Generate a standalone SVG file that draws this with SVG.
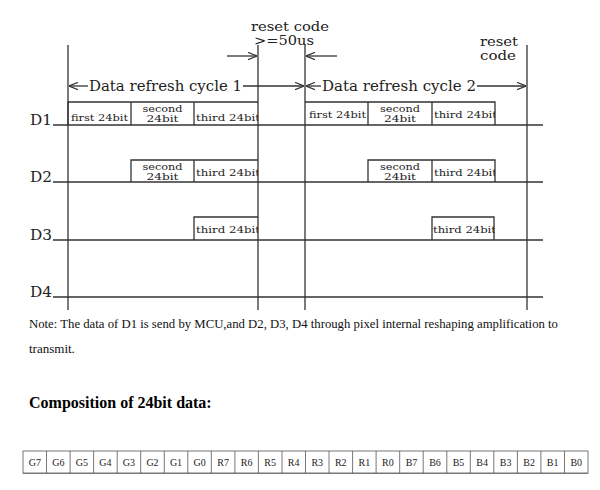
<svg xmlns="http://www.w3.org/2000/svg" width="600" height="490" viewBox="0 0 600 490">
<style>
.ln{stroke:#333;stroke-width:1.3;fill:none}
.t{font-family:"DejaVu Serif","Liberation Serif",serif;fill:#222}
.big{font-size:14px}
.rc{font-size:12.5px}
.sm{font-size:9.5px}
.lab{font-size:15px}
.note{font-family:"Liberation Serif",serif;font-size:13px;fill:#111}
.cell{font-family:"Liberation Serif",serif;font-size:10px;fill:#222;text-anchor:middle}
.cb{stroke:#555;stroke-width:0.8;fill:#fff}
</style>
<defs>
<marker id="ah" viewBox="0 0 10 10" refX="10" refY="5" markerWidth="9" markerHeight="9" markerUnits="userSpaceOnUse" orient="auto">
<path d="M0,1 L10,5 L0,9" fill="none" stroke="#333" stroke-width="1.4"/>
</marker>
<clipPath id="c1"><rect x="194" y="100" width="64" height="150"/></clipPath>
<clipPath id="c2"><rect x="432" y="100" width="63" height="150"/></clipPath>
</defs>

<g id="connectors">
<line class="ln" x1="68" y1="45" x2="68" y2="310"/>
<line class="ln" x1="258" y1="45" x2="258" y2="310"/>
<line class="ln" x1="305" y1="45" x2="305" y2="310"/>
<line class="ln" x1="527" y1="45" x2="527" y2="310"/>
<line class="ln" x1="227" y1="56" x2="257" y2="56" marker-end="url(#ah)"/>
<line class="ln" x1="337" y1="56" x2="306" y2="56" marker-end="url(#ah)"/>
<line class="ln" x1="88" y1="86" x2="69" y2="86" marker-end="url(#ah)"/>
<line class="ln" x1="243" y1="86" x2="304" y2="86" marker-end="url(#ah)"/>
<line class="ln" x1="321" y1="86" x2="306" y2="86" marker-end="url(#ah)"/>
<line class="ln" x1="477" y1="86" x2="526" y2="86" marker-end="url(#ah)"/>
<line class="ln" x1="53" y1="125" x2="543" y2="125"/>
<line class="ln" x1="53" y1="182" x2="543" y2="182"/>
<line class="ln" x1="53" y1="240" x2="543" y2="240"/>
<line class="ln" x1="53" y1="297" x2="543" y2="297"/>
</g>

<g id="labels">
<text class="t rc" x="290" y="31" text-anchor="middle" textLength="78" lengthAdjust="spacingAndGlyphs">reset code</text>
<text class="t rc" x="284" y="44.5" text-anchor="middle" textLength="60" lengthAdjust="spacingAndGlyphs">&gt;=50us</text>
<text class="t rc" x="499" y="46" text-anchor="middle" textLength="38" lengthAdjust="spacingAndGlyphs">reset</text>
<text class="t rc" x="498" y="59.5" text-anchor="middle" textLength="36" lengthAdjust="spacingAndGlyphs">code</text>
<text class="t big" x="89" y="91" textLength="153" lengthAdjust="spacingAndGlyphs">Data refresh cycle 1</text>
<text class="t big" x="322" y="91" textLength="154" lengthAdjust="spacingAndGlyphs">Data refresh cycle 2</text>
<text class="t lab" x="30" y="125" textLength="22" lengthAdjust="spacingAndGlyphs">D1</text>
<text class="t lab" x="30" y="182" textLength="22" lengthAdjust="spacingAndGlyphs">D2</text>
<text class="t lab" x="30" y="240" textLength="22" lengthAdjust="spacingAndGlyphs">D3</text>
<text class="t lab" x="30" y="297" textLength="22" lengthAdjust="spacingAndGlyphs">D4</text>
</g>

<g id="d1">
<polyline class="ln" points="68,125 68,102 258,102"/>
<line class="ln" x1="131" y1="102" x2="131" y2="125"/>
<line class="ln" x1="194" y1="102" x2="194" y2="125"/>
<text class="t sm" x="71" y="120.5" textLength="57" lengthAdjust="spacingAndGlyphs">first 24bit</text>
<text class="t sm" x="162.5" y="111.5" text-anchor="middle" textLength="40" lengthAdjust="spacingAndGlyphs">second</text>
<text class="t sm" x="162.5" y="121.5" text-anchor="middle" textLength="32" lengthAdjust="spacingAndGlyphs">24bit</text>
<text class="t sm" x="196" y="120.5" textLength="64" lengthAdjust="spacingAndGlyphs" clip-path="url(#c1)">third 24bit</text>
<polyline class="ln" points="305,102 495,102 495,125"/>
<line class="ln" x1="368" y1="102" x2="368" y2="125"/>
<line class="ln" x1="432" y1="102" x2="432" y2="125"/>
<text class="t sm" x="309" y="117.5" textLength="57" lengthAdjust="spacingAndGlyphs">first 24bit</text>
<text class="t sm" x="400" y="111.5" text-anchor="middle" textLength="40" lengthAdjust="spacingAndGlyphs">second</text>
<text class="t sm" x="400" y="121.5" text-anchor="middle" textLength="32" lengthAdjust="spacingAndGlyphs">24bit</text>
<text class="t sm" x="434" y="117.5" textLength="63" lengthAdjust="spacingAndGlyphs" clip-path="url(#c2)">third 24bit</text>
</g>

<g id="d2">
<polyline class="ln" points="131,182 131,160 258,160"/>
<line class="ln" x1="194" y1="160" x2="194" y2="182"/>
<text class="t sm" x="162.5" y="169.5" text-anchor="middle" textLength="40" lengthAdjust="spacingAndGlyphs">second</text>
<text class="t sm" x="162.5" y="179.5" text-anchor="middle" textLength="32" lengthAdjust="spacingAndGlyphs">24bit</text>
<text class="t sm" x="196" y="175.5" textLength="64" lengthAdjust="spacingAndGlyphs" clip-path="url(#c1)">third 24bit</text>
<polyline class="ln" points="368,182 368,160 495,160 495,182"/>
<line class="ln" x1="432" y1="160" x2="432" y2="182"/>
<text class="t sm" x="400" y="169.5" text-anchor="middle" textLength="40" lengthAdjust="spacingAndGlyphs">second</text>
<text class="t sm" x="400" y="179.5" text-anchor="middle" textLength="32" lengthAdjust="spacingAndGlyphs">24bit</text>
<text class="t sm" x="434" y="175.5" textLength="63" lengthAdjust="spacingAndGlyphs" clip-path="url(#c2)">third 24bit</text>
</g>

<g id="d3">
<polyline class="ln" points="194,240 194,217 258,217"/>
<text class="t sm" x="196" y="232.5" textLength="64" lengthAdjust="spacingAndGlyphs" clip-path="url(#c1)">third 24bit</text>
<polyline class="ln" points="432,240 432,217 494,217 494,240"/>
<text class="t sm" x="433" y="232.5" textLength="63" lengthAdjust="spacingAndGlyphs" clip-path="url(#c2)">third 24bit</text>
</g>

<g id="d4"></g>

<g id="note">
<text class="note" x="29" y="328" textLength="529" lengthAdjust="spacingAndGlyphs">Note: The data of D1 is send by MCU,and D2, D3, D4 through pixel internal reshaping amplification to</text>
<text class="note" x="29" y="353">transmit.</text>
<text x="29" y="408" style="font-family:'Liberation Serif',serif;font-size:16px;font-weight:bold;fill:#000">Composition of 24bit data:</text>
</g>

<g id="table">
<rect class="cb" x="23" y="451" width="565" height="22"/>
<g stroke="#555" stroke-width="0.8">
<line x1="46.5" y1="451" x2="46.5" y2="473"/><line x1="70.1" y1="451" x2="70.1" y2="473"/><line x1="93.6" y1="451" x2="93.6" y2="473"/><line x1="117.2" y1="451" x2="117.2" y2="473"/><line x1="140.7" y1="451" x2="140.7" y2="473"/><line x1="164.3" y1="451" x2="164.3" y2="473"/><line x1="187.8" y1="451" x2="187.8" y2="473"/><line x1="211.3" y1="451" x2="211.3" y2="473"/><line x1="234.9" y1="451" x2="234.9" y2="473"/><line x1="258.4" y1="451" x2="258.4" y2="473"/><line x1="282" y1="451" x2="282" y2="473"/><line x1="305.5" y1="451" x2="305.5" y2="473"/><line x1="329" y1="451" x2="329" y2="473"/><line x1="352.6" y1="451" x2="352.6" y2="473"/><line x1="376.1" y1="451" x2="376.1" y2="473"/><line x1="399.7" y1="451" x2="399.7" y2="473"/><line x1="423.2" y1="451" x2="423.2" y2="473"/><line x1="446.8" y1="451" x2="446.8" y2="473"/><line x1="470.3" y1="451" x2="470.3" y2="473"/><line x1="493.8" y1="451" x2="493.8" y2="473"/><line x1="517.4" y1="451" x2="517.4" y2="473"/><line x1="540.9" y1="451" x2="540.9" y2="473"/><line x1="564.5" y1="451" x2="564.5" y2="473"/>
</g>
<line x1="23" y1="473.5" x2="588" y2="473.5" stroke="#777" stroke-width="1"/>
<text class="cell" x="34.8" y="465.5">G7</text><text class="cell" x="58.3" y="465.5">G6</text><text class="cell" x="81.8" y="465.5">G5</text><text class="cell" x="105.4" y="465.5">G4</text><text class="cell" x="128.9" y="465.5">G3</text><text class="cell" x="152.5" y="465.5">G2</text><text class="cell" x="176" y="465.5">G1</text><text class="cell" x="199.6" y="465.5">G0</text><text class="cell" x="223.1" y="465.5">R7</text><text class="cell" x="246.7" y="465.5">R6</text><text class="cell" x="270.2" y="465.5">R5</text><text class="cell" x="293.7" y="465.5">R4</text><text class="cell" x="317.3" y="465.5">R3</text><text class="cell" x="340.8" y="465.5">R2</text><text class="cell" x="364.4" y="465.5">R1</text><text class="cell" x="387.9" y="465.5">R0</text><text class="cell" x="411.5" y="465.5">B7</text><text class="cell" x="435" y="465.5">B6</text><text class="cell" x="458.5" y="465.5">B5</text><text class="cell" x="482.1" y="465.5">B4</text><text class="cell" x="505.6" y="465.5">B3</text><text class="cell" x="529.2" y="465.5">B2</text><text class="cell" x="552.7" y="465.5">B1</text><text class="cell" x="576.3" y="465.5">B0</text>
</g>
</svg>
